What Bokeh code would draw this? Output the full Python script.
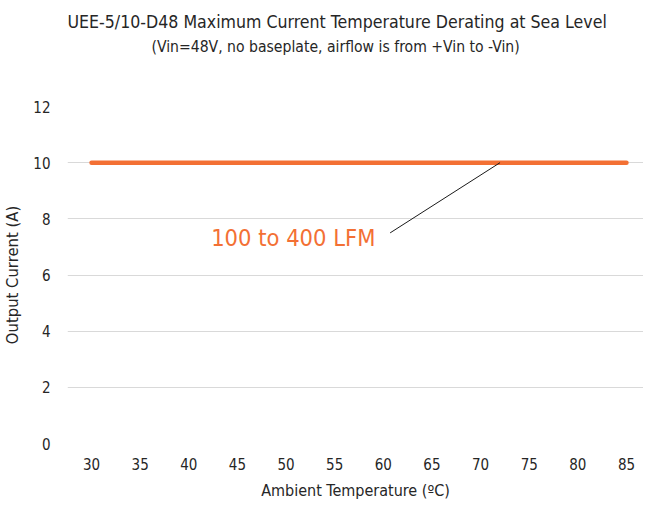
from bokeh.plotting import figure
from bokeh.models import Title, Label, FixedTicker, Range1d, ColumnDataSource
from bokeh.embed import file_html
from bokeh.resources import INLINE

temps = [30, 35, 40, 45, 50, 55, 60, 65, 70, 75, 80, 85]
current = [10, 10, 10, 10, 10, 10, 10, 10, 10, 10, 10, 10]
y_ticks = [0, 2, 4, 6, 8, 10, 12]
series_label = "100 to 400 LFM"
callout_from = (60.7, 7.5)
callout_to = (72, 10)
label_pos = (42.3, 7.3)

FONT = "DejaVu Sans Condensed"
ORANGE = "#F37034"
TXT = "#262626"

p = figure(width=643, height=502, output_backend="svg", toolbar_location=None,
           x_range=Range1d(27.53, 86.75), y_range=Range1d(0, 12))
p.min_border_left = 5
p.min_border_right = 0
p.min_border_top = 5
p.min_border_bottom = 5
p.outline_line_color = None
p.background_fill_color = "white"

p.line(temps, current, line_color=ORANGE, line_width=4.5, line_cap="round")

src = ColumnDataSource(dict(x0=[callout_from[0]], y0=[callout_from[1]],
                            x1=[callout_to[0]], y1=[callout_to[1]]))
p.segment("x0", "y0", "x1", "y1", source=src, line_color="#1a1a1a", line_width=1)

p.add_layout(Label(x=label_pos[0], y=label_pos[1], text=series_label,
                   text_font=FONT, text_font_size="23.5px", text_color=ORANGE,
                   text_baseline="middle", text_align="left"))

p.xaxis.ticker = FixedTicker(ticks=temps)
p.yaxis.ticker = FixedTicker(ticks=y_ticks)
for ax in (p.xaxis[0], p.yaxis[0]):
    ax.axis_line_color = None
    ax.major_tick_line_color = None
    ax.minor_tick_line_color = None
    ax.major_tick_out = 0
    ax.major_tick_in = 0
    ax.minor_tick_out = 0
    ax.minor_tick_in = 0
    ax.major_label_text_font = FONT
    ax.major_label_text_font_size = "15px"
    ax.major_label_text_color = TXT
    ax.axis_label_text_font = FONT
    ax.axis_label_text_color = TXT
    ax.axis_label_text_font_style = "normal"
p.xaxis.axis_label_text_font_size = "16px"
p.yaxis.axis_label_text_font_size = "16.5px"
p.xaxis.axis_label = "Ambient Temperature (ºC)"
p.yaxis.axis_label = "Output Current (A)"
p.xaxis.major_label_standoff = 14
p.yaxis.major_label_standoff = 17
p.xaxis.axis_label_standoff = 8
p.yaxis.axis_label_standoff = 8

p.xgrid.grid_line_color = None
p.ygrid.grid_line_color = "#d9d9d9"
p.ygrid.grid_line_width = 1

p.title = None
spacer = Title(text=" ", text_font=FONT, text_font_size="16px", standoff=26)
t2 = Title(text="(Vin=48V, no baseplate, airflow is from +Vin to -Vin)", align="left",
           text_font=FONT, text_font_size="15.6px", text_color=TXT, text_font_style="normal",
           offset=84)
t1 = Title(text="UEE-5/10-D48 Maximum Current Temperature Derating at Sea Level", align="left",
           text_font=FONT, text_font_size="17.6px", text_color=TXT, text_font_style="normal",
           offset=0)
top_spacer = Title(text=" ", text_font=FONT, text_font_size="5px", standoff=0)
t2.standoff = 7
t1.standoff = 2
p.add_layout(spacer, "above")
p.add_layout(t2, "above")
p.add_layout(t1, "above")
p.add_layout(top_spacer, "above")

open("out.html", "w").write(file_html(p, INLINE))
